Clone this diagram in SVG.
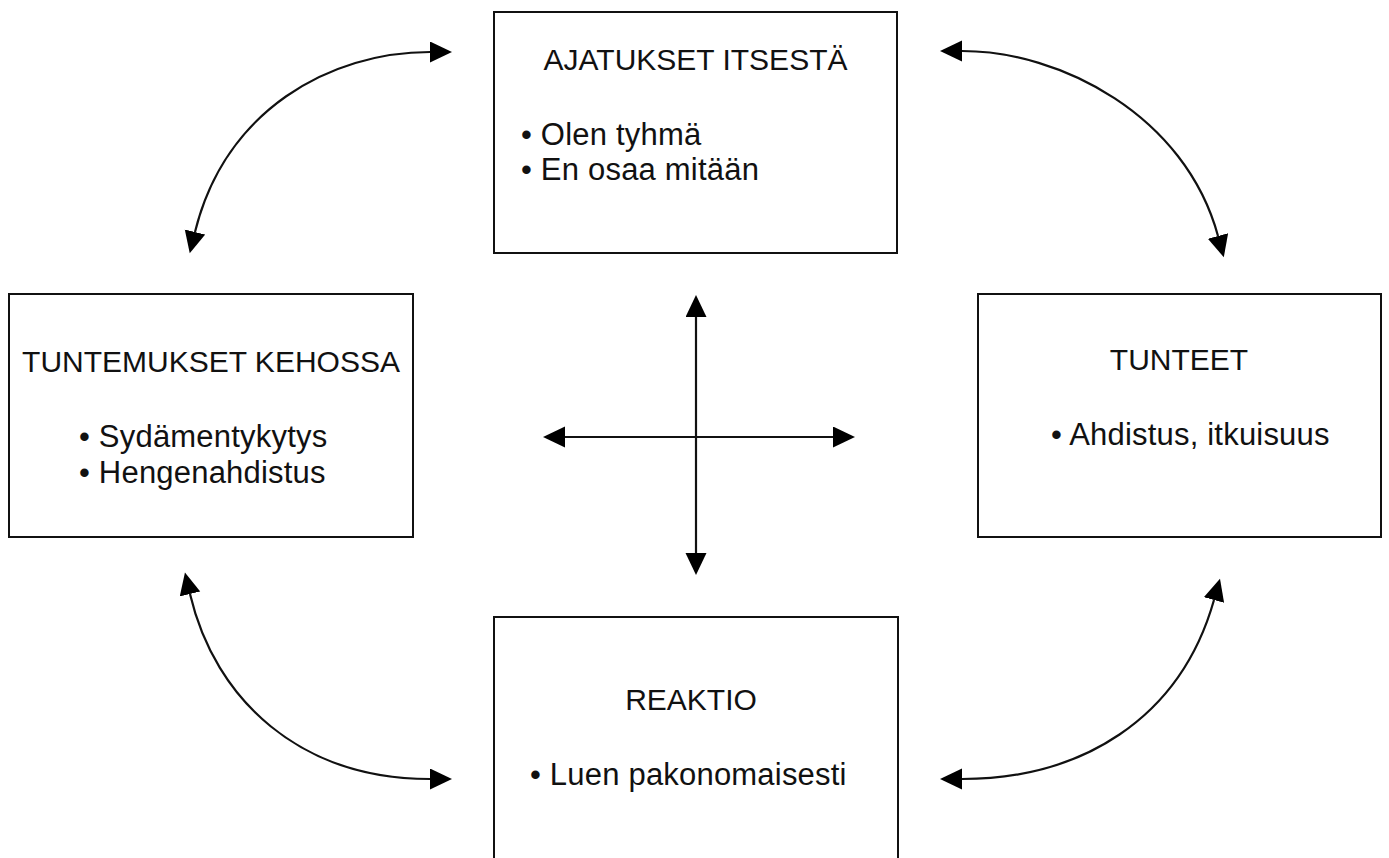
<svg xmlns="http://www.w3.org/2000/svg" width="1389" height="858" viewBox="0 0 1389 858">
<style>
  .box{fill:#fff;stroke:#111;stroke-width:2}
  .t{font-family:"Liberation Sans",Arial,Helvetica,sans-serif;font-size:30px;fill:#111}
  .i{font-size:31px;letter-spacing:0.2px}
  .c{text-anchor:middle}
  .ln{fill:none;stroke:#111;stroke-width:2.2;marker-start:url(#ah);marker-end:url(#ah)}
</style>
<defs>
  <marker id="ah" markerUnits="userSpaceOnUse" markerWidth="24" markerHeight="22" refX="0" refY="10.5" orient="auto-start-reverse" viewBox="0 0 24 22">
    <path d="M0,0 L22,10.5 L0,21 z" fill="#000"/>
  </marker>
</defs>
<rect width="1389" height="858" fill="#fff"/>
<g id="connectors">
  <path class="ln" d="M430,52 C330,52 225,110 195,232"/>
  <path class="ln" d="M962,51 C1060,51 1185,115 1218,236"/>
  <path class="ln" d="M190,594 C215,700 300,779 430,779"/>
  <path class="ln" d="M962,779 C1080,779 1180,720 1214,600"/>
  <path class="ln" d="M696,317 L696,553"/>
  <path class="ln" d="M565,437 L833,437"/>
</g>
<g id="node-ajatukset">
  <rect class="box" x="494" y="12" width="403" height="241"/>
  <text class="t c" x="695.5" y="70">AJATUKSET ITSESTÄ</text>
  <text class="t i" x="521" y="145">• Olen tyhmä</text>
  <text class="t i" x="521" y="180">• En osaa mitään</text>
</g>
<g id="node-tuntemukset">
  <rect class="box" x="9" y="294" width="404" height="243"/>
  <text class="t c" x="211" y="372">TUNTEMUKSET KEHOSSA</text>
  <text class="t i" x="79" y="447">• Sydämentykytys</text>
  <text class="t i" x="79" y="483">• Hengenahdistus</text>
</g>
<g id="node-tunteet">
  <rect class="box" x="978" y="294" width="403" height="243"/>
  <text class="t c" x="1179" y="370">TUNTEET</text>
  <text class="t i" x="1051" y="445">• Ahdistus, itkuisuus</text>
</g>
<g id="node-reaktio">
  <rect class="box" x="494" y="617" width="404" height="262"/>
  <text class="t c" x="691" y="710">REAKTIO</text>
  <text class="t i" x="530" y="785">• Luen pakonomaisesti</text>
</g>
</svg>
